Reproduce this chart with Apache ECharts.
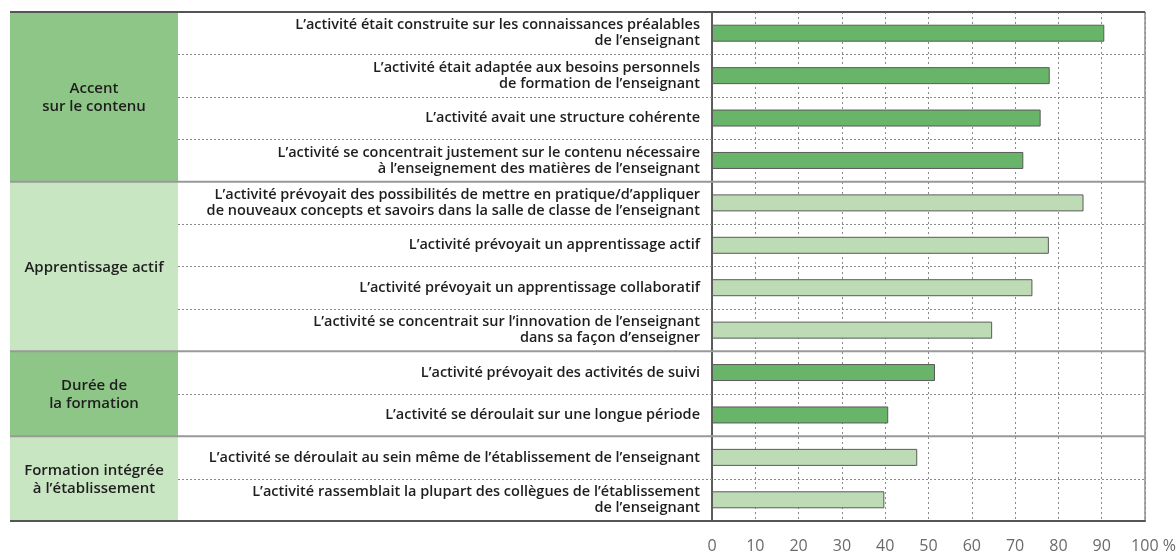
<!DOCTYPE html>
<html>
<head>
<meta charset="utf-8">
<script src="https://cdn.jsdelivr.net/npm/echarts@6/dist/echarts.min.js"></script>
<style>
  html, body { margin: 0; padding: 0; background: #ffffff; }
  #chart { width: 1176px; height: 551px; }
</style>
</head>
<body>
<div id="chart"></div>
<script>
// libellés des lignes (de haut en bas)
var items = [
  "L’activité était construite sur les connaissances préalables\nde l’enseignant",
  "L’activité était adaptée aux besoins personnels\nde formation de l’enseignant",
  "L’activité avait une structure cohérente",
  "L’activité se concentrait justement sur le contenu nécessaire\nà l’enseignement des matières de l’enseignant",
  "L’activité prévoyait des possibilités de mettre en pratique/d’appliquer\nde nouveaux concepts et savoirs dans la salle de classe de l’enseignant",
  "L’activité prévoyait un apprentissage actif",
  "L’activité prévoyait un apprentissage collaboratif",
  "L’activité se concentrait sur l’innovation de l’enseignant\ndans sa façon d’enseigner",
  "L’activité prévoyait des activités de suivi",
  "L’activité se déroulait sur une longue période",
  "L’activité se déroulait au sein même de l’établissement de l’enseignant",
  "L’activité rassemblait la plupart des collègues de l’établissement\nde l’enseignant"
];
var values = [90.6, 78.0, 75.9, 71.9, 85.8, 77.8, 74.0, 64.7, 51.5, 40.7, 47.4, 39.8];

var groupNames = ["Accent\nsur le contenu", "Apprentissage actif", "Durée de\nla formation", "Formation intégrée\nà l’établissement"];
var groupSizes = [4, 4, 2, 2];
var groupDark = [true, false, true, false];

var xTicks = [0, 10, 20, 30, 40, 50, 60, 70, 80, 90, 100];

var cellDark = "#8ec687", cellLight = "#c9e6c2";
var barDark = "#68b468", barLight = "#bddcb5";

// lignes -> groupe
var rowGroup = [], groupStart = [], groupEnd = [];
var r = 0;
groupSizes.forEach(function (n, g) {
  groupStart.push(r);
  for (var k = 0; k < n; k++) rowGroup.push(g);
  r += n;
  groupEnd.push(r - 1);
});
var solidRows = [], dottedRows = [];
rowGroup.forEach(function (g, i) {
  if (groupEnd.indexOf(i) >= 0) solidRows.push([0, i]); else dottedRows.push([0, i]);
});

var myChart = echarts.init(document.getElementById("chart"));
var hiddenX = function (idx) {
  return { type: "value", gridIndex: idx, min: 0, max: 1, show: false };
};
var hiddenY = function (idx) {
  return { type: "category", gridIndex: idx, data: items, inverse: true, show: false };
};

var option = {
  backgroundColor: "#ffffff",
  animation: false,
  textStyle: { fontFamily: "Open Sans" },
  grid: [
    { left: 10, right: 31, top: 12, bottom: 30, outerBoundsMode: "none" },   // tableau entier
    { left: 10, width: 168, top: 12, bottom: 30, outerBoundsMode: "none" },  // colonne des groupes
    { left: 178, right: 31, top: 12, bottom: 30, outerBoundsMode: "none" },  // zone des libellés
    { left: 712, right: 31, top: 12, bottom: 30, outerBoundsMode: "none",
      show: true, borderColor: "#555", borderWidth: 1, backgroundColor: "transparent" }
  ],
  xAxis: [
    hiddenX(0), hiddenX(1), hiddenX(2),
    {
      type: "value",
      gridIndex: 3,
      min: xTicks[0],
      max: xTicks[xTicks.length - 1],
      interval: xTicks[1] - xTicks[0],
      axisLine: { show: true, lineStyle: { color: "#555", width: 2 } },
      axisTick: { show: false },
      splitLine: { show: true, lineStyle: { color: "#8a8a8a", type: [2, 3], width: 1 } },
      axisLabel: {
        margin: 17,
        fontSize: 16,
        color: "#6a6a6a",
        showMaxLabel: true,
        formatter: function (v) {
          return v === 100 ? "{sp|}100{pc| %}" : String(v);
        },
        rich: {
          sp: { width: 17 },
          pc: { fontSize: 16, color: "#6a6a6a" }
        }
      }
    }
  ],
  yAxis: [
    hiddenY(0), hiddenY(1), hiddenY(2),
    {
      type: "category",
      gridIndex: 3,
      data: items,
      inverse: true,
      axisLine: { show: true, lineStyle: { color: "#444", width: 1.5 } },
      axisTick: { show: false },
      axisLabel: {
        margin: 12,
        fontSize: 14.5,
        fontWeight: 600,
        color: "#1e1e1e",
        lineHeight: 16,
        align: "right"
      }
    }
  ],
  series: [
    {
      // cellules des groupes
      type: "custom",
      xAxisIndex: 1,
      yAxisIndex: 1,
      z: 1,
      data: groupNames.map(function (n, g) { return [0, groupStart[g], groupEnd[g]]; }),
      renderItem: function (params, api) {
        var g = params.dataIndex;
        var h = api.size([0, 1])[1];
        var top = api.coord([0, api.value(1)])[1] - h / 2;
        var bottom = api.coord([0, api.value(2)])[1] + h / 2;
        var cs = params.coordSys;
        return {
          type: "group",
          children: [
            { type: "rect", shape: { x: cs.x, y: top, width: cs.width, height: bottom - top },
              style: { fill: groupDark[g] ? cellDark : cellLight } },
            { type: "text", style: {
                text: groupNames[g], x: cs.x + cs.width / 2, y: (top + bottom) / 2 + 1,
                align: "center", verticalAlign: "middle",
                fontSize: 15, fontWeight: 600, fontFamily: "Open Sans", lineHeight: 18, fill: "#1e1e1e" } }
          ]
        };
      }
    },
    {
      // séparateurs pointillés entre lignes d'un même groupe
      type: "custom",
      xAxisIndex: 2,
      yAxisIndex: 2,
      z: 2,
      data: dottedRows,
      renderItem: function (params, api) {
        var h = api.size([0, 1])[1];
        var y = Math.round(api.coord([0, api.value(1)])[1] + h / 2) + 0.5;
        var cs = params.coordSys;
        return { type: "line", shape: { x1: cs.x, y1: y, x2: cs.x + cs.width, y2: y },
          style: { stroke: "#8a8a8a", lineWidth: 1, lineDash: [2, 2] } };
      }
    },
    {
      // traits pleins entre les groupes + haut du tableau
      type: "custom",
      xAxisIndex: 0,
      yAxisIndex: 0,
      z: 5,
      data: solidRows.concat([[0, -1]]),
      renderItem: function (params, api) {
        var h = api.size([0, 1])[1];
        var idx = api.value(1);
        var y = api.coord([0, Math.max(idx, 0)])[1] + (idx < 0 ? -h / 2 : h / 2);
        var last = idx === items.length - 1;
        var cs = params.coordSys;
        return { type: "line", shape: { x1: cs.x, y1: y, x2: cs.x + cs.width, y2: y },
          style: { stroke: (idx < 0 || last) ? "#555" : "#999", lineWidth: 2 } };
      }
    },
    {
      name: "Pourcentage",
      type: "bar",
      xAxisIndex: 3,
      yAxisIndex: 3,
      barWidth: 17,
      z: 10,
      data: values.map(function (v, i) {
        return {
          value: v,
          itemStyle: {
            color: groupDark[rowGroup[i]] ? barDark : barLight,
            borderColor: "#5a5a5a",
            borderWidth: 1
          }
        };
      })
    }
  ]
};
myChart.setOption(option);
</script>
</body>
</html>
